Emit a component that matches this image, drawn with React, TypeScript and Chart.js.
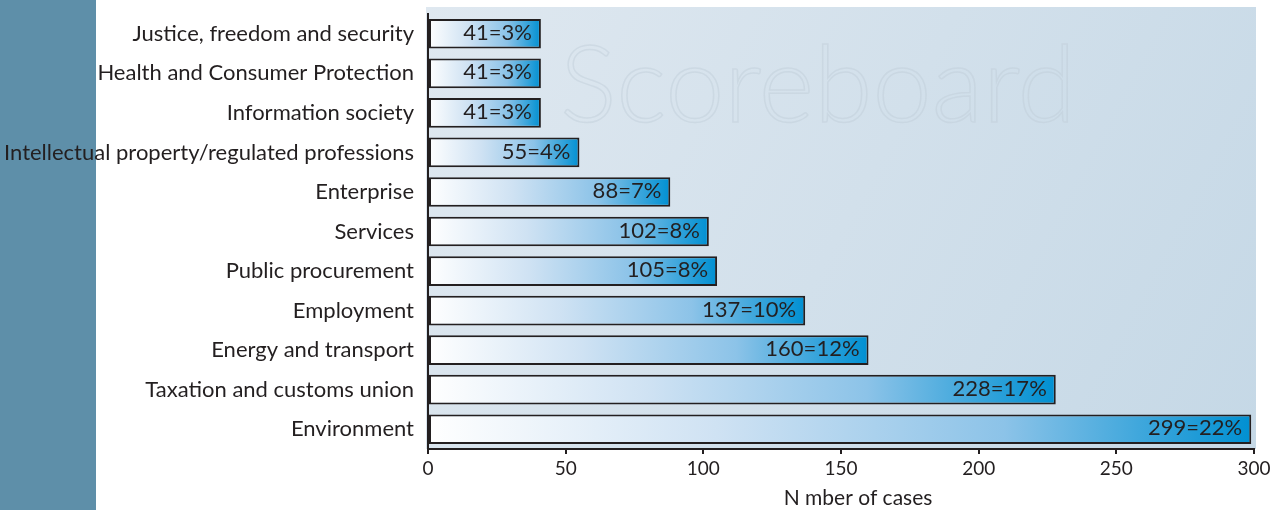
import React, { useEffect, useRef } from "react";
import { Chart, registerables } from "chart.js";

Chart.register(...registerables);

const categories = [
  "Justice, freedom and security",
  "Health and Consumer Protection",
  "Information society",
  "Intellectual property/regulated professions",
  "Enterprise",
  "Services",
  "Public procurement",
  "Employment",
  "Energy and transport",
  "Taxation and customs union",
  "Environment",
];
const cases = [41, 41, 41, 55, 88, 102, 105, 137, 160, 228, 299];
const percents = [3, 3, 3, 4, 7, 8, 8, 10, 12, 17, 22];
const xTicks = [0, 50, 100, 150, 200, 250, 300];
const axisTitle = "N mber of cases";

const FONT = "Lato, 'Open Sans', sans-serif";
const TEXT = "#231f20";

const decorPlugin = {
  id: "decor",
  beforeDraw(chart: any) {
    const { ctx, chartArea } = chart;
    ctx.save();
    // left strip
    ctx.fillStyle = "#5e8fa9";
    ctx.fillRect(0, 0, 96, chart.height);
    // plot background
    const x0 = chartArea.left - 2, y0 = 7, x1 = chartArea.right + 2, y1 = chartArea.bottom;
    const g = ctx.createLinearGradient(x0, y0, x1, y1);
    g.addColorStop(0, "#dfe8f0");
    g.addColorStop(1, "#c5d8e6");
    ctx.fillStyle = g;
    ctx.fillRect(x0, y0, x1 - x0, y1 - y0);
    // very faint outlined watermark
    ctx.font = `300 106px ${FONT}`;
    ctx.textAlign = "left";
    ctx.textBaseline = "alphabetic";
    ctx.strokeStyle = "rgba(190,204,215,0.45)";
    ctx.lineWidth = 1.5;
    ctx.strokeText("Scoreboard", 560, 122);
    ctx.restore();
  },
  afterDatasetsDraw(chart: any) {
    const { ctx } = chart;
    const meta = chart.getDatasetMeta(0);
    ctx.save();
    ctx.font = `22px ${FONT}`;
    ctx.fillStyle = TEXT;
    ctx.textAlign = "right";
    ctx.textBaseline = "middle";
    meta.data.forEach((bar: any, i: number) => {
      ctx.fillText(`${cases[i]}=${percents[i]}%`, bar.x - 9, bar.y - 1);
    });
    // axis title
    ctx.textAlign = "center";
    ctx.font = `21px ${FONT}`;
    ctx.fillText(axisTitle, 858, 498);
    ctx.restore();
  },
};

export default function App() {
  const ref = useRef<HTMLCanvasElement | null>(null);
  useEffect(() => {
    if (!ref.current) return;
    const chart = new Chart(ref.current, {
      type: "bar",
      data: {
        labels: categories,
        datasets: [
          {
            data: cases,
            backgroundColor: (c: any) => {
              const ch = c.chart;
              const area = ch.chartArea;
              if (!area || c.dataIndex === undefined) return "#7ab8e3";
              const xs = ch.scales.x;
              const end = xs.getPixelForValue(cases[c.dataIndex]);
              const g = ch.ctx.createLinearGradient(xs.getPixelForValue(0), 0, end, 0);
              g.addColorStop(0, "#ffffff");
              g.addColorStop(0.35, "#cfe2f3");
              g.addColorStop(0.7, "#8cc3e8");
              g.addColorStop(1, "#0090d2");
              return g;
            },
            borderColor: TEXT,
            borderWidth: 2,
            borderSkipped: false,
            barPercentage: 0.75,
            categoryPercentage: 1,
          },
        ],
      },
      options: {
        indexAxis: "y",
        animation: false,
        responsive: false,
        maintainAspectRatio: false,
        layout: { padding: { top: 14, right: 30, left: 0, bottom: 0 } },
        plugins: { legend: { display: false }, tooltip: { enabled: false } },
        scales: {
          y: {
            afterFit: (s: any) => {
              s.width = 428;
              s.paddingTop = 0;
              s.paddingBottom = 0;
            },
            grid: { display: false, drawTicks: false },
            border: { display: true, color: TEXT, width: 2 },
            ticks: {
              padding: 14,
              color: TEXT,
              font: { family: FONT, size: 22 },
            },
          },
          x: {
            min: 0,
            max: 300,
            afterFit: (s: any) => {
              s.height = 61;
              s.paddingLeft = 0;
              s.paddingRight = 0;
            },
            afterBuildTicks: (s: any) => {
              s.ticks = xTicks.map((v) => ({ value: v }));
            },
            grid: {
              display: true,
              drawOnChartArea: false,
              drawTicks: true,
              tickLength: 5,
              color: TEXT,
              lineWidth: 2,
            },
            border: { display: true, color: TEXT, width: 2 },
            ticks: {
              padding: 3,
              color: TEXT,
              maxRotation: 0,
              font: { family: FONT, size: 19 },
            },
          },
        },
      },
      plugins: [decorPlugin],
    } as any);
    return () => chart.destroy();
  }, []);
  return (
    <div style={{ position: "absolute", left: 0, top: 0, width: 1284, height: 510, background: "#fff" }}>
      <canvas ref={ref} width={1284} height={510} style={{ display: "block" }} />
    </div>
  );
}
